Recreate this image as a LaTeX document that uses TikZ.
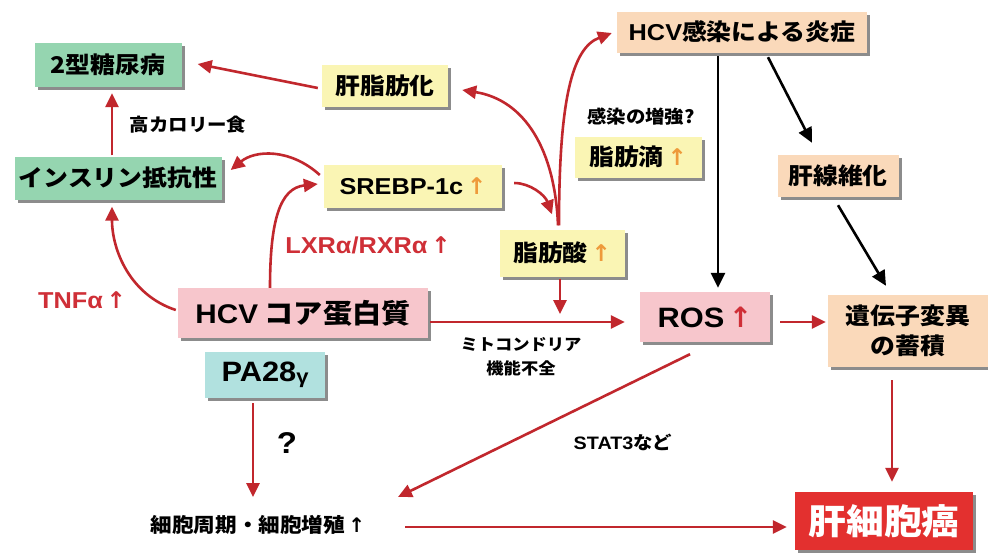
\documentclass[tikz,border=0pt]{standalone}
\usepackage{fontspec}
\usetikzlibrary{arrows.meta,shadows,calc}
\newfontfamily\jp{Noto Sans CJK JP}[FakeStretch=1.08]
\newfontfamily\la{Liberation Sans}[FakeStretch=1.1]
\newfontfamily\dv{DejaVu Sans}
\definecolor{arrred}{HTML}{C1272D}
\definecolor{txtred}{HTML}{CF2F37}
\definecolor{gbox}{HTML}{95D5B0}
\definecolor{ybox}{HTML}{FAF5B4}
\definecolor{pbox}{HTML}{FAD9BA}
\definecolor{kbox}{HTML}{F7C6CC}
\definecolor{cbox}{HTML}{B1E1DF}
\definecolor{rbox}{HTML}{E3302F}
\definecolor{orup}{HTML}{EE9A3B}
\newcommand\fsz[1]{\fontsize{#1}{#1}\selectfont}
\newcommand\upa[1]{{\dv\color{#1}↑}}
\tikzset{
  bx/.style={inner sep=0pt, anchor=center, align=center,
    drop shadow={shadow xshift=3pt, shadow yshift=-3pt, fill=black, opacity=.45}},
  jtxt/.style={font=\jp\bfseries\fsz{#1}},
  ra/.style={draw=arrred, line width=2.6pt, -{Triangle[length=14pt,width=13pt]}},
  ba/.style={draw=black, line width=2.6pt, -{Triangle[length=15pt,width=14pt]}},
  lbl/.style={inner sep=0pt, anchor=center, align=center}
}
\begin{document}
\begin{tikzpicture}[x=1pt,y=-1pt]
\fill[white] (0,0) rectangle (988,552);
\useasboundingbox (0,0) rectangle (988,552);
% boxes
\node[bx, fill=gbox, minimum width=147pt, minimum height=44pt, jtxt=23] (dm) at (108,65) {2型糖尿病};
\node[bx, fill=ybox, minimum width=126pt, minimum height=42pt, jtxt=23] (fl) at (385,86) {肝脂肪化};
\node[bx, fill=gbox, minimum width=207pt, minimum height=43pt, jtxt=23] (ir) at (118,178) {インスリン抵抗性};
\node[bx, fill=ybox, minimum width=178pt, minimum height=43pt, jtxt=23] (sr) at (413,186) {{\la\bfseries SREBP-1c}\,\upa{orup}};
\node[bx, fill=pbox, minimum width=250pt, minimum height=41pt, jtxt=23] (inf) at (742,32) {{\la\bfseries HCV}感染による炎症};
\node[bx, fill=ybox, minimum width=127pt, minimum height=41pt, jtxt=23] (dr) at (638,157) {脂肪滴\,\upa{orup}};
\node[bx, fill=pbox, minimum width=121pt, minimum height=42pt, jtxt=23] (fib) at (838,176) {肝線維化};
\node[bx, fill=ybox, minimum width=125pt, minimum height=47pt, jtxt=23] (fa) at (562,253) {脂肪酸\,\upa{orup}};
\node[bx, fill=kbox, minimum width=250pt, minimum height=50pt, jtxt=27] (core) at (303,313) {{\la\bfseries HCV} コア蛋白質};
\node[bx, fill=cbox, minimum width=120pt, minimum height=46pt, font=\la\bfseries\fsz{28}] (pa) at (265,375) {PA28\raisebox{-2pt}{\fsz{20}γ}};
\node[bx, fill=kbox, minimum width=130pt, minimum height=50pt, font=\la\bfseries\fsz{28}] (ros) at (705,317) {ROS\,\upa{txtred}};
\node[bx, fill=pbox, minimum width=160pt, minimum height=72pt, font=\jp\bfseries\fontsize{23}{30}\selectfont] (gene) at (908,331) {遺伝子変異\\の蓄積};
\node[bx, fill=rbox, text=white, minimum width=178pt, minimum height=58pt, jtxt=35] (hcc) at (884,521) {肝細胞癌};
% labels
\node[lbl, jtxt=18] (kc) at (188,125) {高カロリー食};
\node[lbl, jtxt=18] (ks) at (641,117) {感染の増強?};
\node[lbl, text=txtred, font=\la\bfseries\fsz{23}] (lxr) at (368,245) {LXRα/RXRα\,{\dv↑}};
\node[lbl, text=txtred, font=\la\bfseries\fsz{23}] (tnf) at (82,300) {TNFα\,{\dv↑}};
\node[lbl, font=\la\bfseries\fsz{30}] (qq) at (287,443) {?};
\node[lbl, font=\jp\bfseries\fontsize{16}{24}\selectfont] (mito) at (521,357) {ミトコンドリア\\機能不全};
\node[lbl, jtxt=18] (st) at (623,442) {{\la\bfseries STAT3}など};
\node[lbl, jtxt=20] (cc) at (258,525) {細胞周期・細胞増殖\,{\dv↑}};
\coordinate (mj) at (560,322);
% connectors
\draw[ra] ($(fl.west)+(-4,2)$) -- ($(dm.east)+(16,-1)$);
\draw[ra] ($(ir.north)+(-6,-1)$) -- ($(dm.south)+(4,6)$);
\draw[ra] ($(sr.west)+(-4,-11)$) .. controls (290,148) and (255,150) .. ($(ir.east)+(9,-8)$);
\draw[ra] ($(core.north)+(-33,0)$) .. controls (270,220) and (280,188) .. ($(sr.west)+(-6,-2)$);
\draw[ra] ($(core.west)+(-2,-3)$) .. controls (130,295) and (112,250) .. ($(ir.south)+(-6,7)$);
\draw[ra] ($(sr.east)+(12,-3)$) .. controls (530,183) and (545,195) .. ($(fa.north)+(-10,-15)$);
\draw[ra] ($(fa.north)+(-4,-4)$) .. controls (555,150) and (525,100) .. ($(fl.east)+(14,4)$);
\draw[ra] ($(fa.north)+(-3,-4)$) .. controls (559,100) and (572,48) .. ($(inf.west)+(-5,1)$);
\draw[ra] ($(fa.south)+(-2,2)$) -- ($(mj)+(0,-8)$);
\draw[ra] ($(core.east)+(2,9)$) -- ($(ros.west)+(-15,5)$);
\draw[ba] ($(inf.south)+(-24,3.5)$) -- ($(ros.north)+(13,-4)$);
\draw[ba] ($(inf.south)+(26,4.5)$) -- ($(fib.north)+(-26,-12)$);
\draw[ba] ($(fib.south)+(0,8)$) -- ($(gene.north)+(-22,-9)$);
\draw[ra] ($(ros.east)+(10,5)$) -- ($(gene.west)+(-2,-9)$);
\draw[ra] ($(ros.south)+(-15,12)$) -- ($(cc.center)+(140,-28)$);
\draw[ra] ($(pa.south)+(-12,5)$) -- ($(cc.center)+(-5,-28)$);
\draw[ra] ($(gene.south)+(-16,13)$) -- ($(hcc.north)+(8,-10)$);
\draw[ra] ($(cc.center)+(147,2)$) -- ($(hcc.west)+(-8,6)$);
\end{tikzpicture}
\end{document}
